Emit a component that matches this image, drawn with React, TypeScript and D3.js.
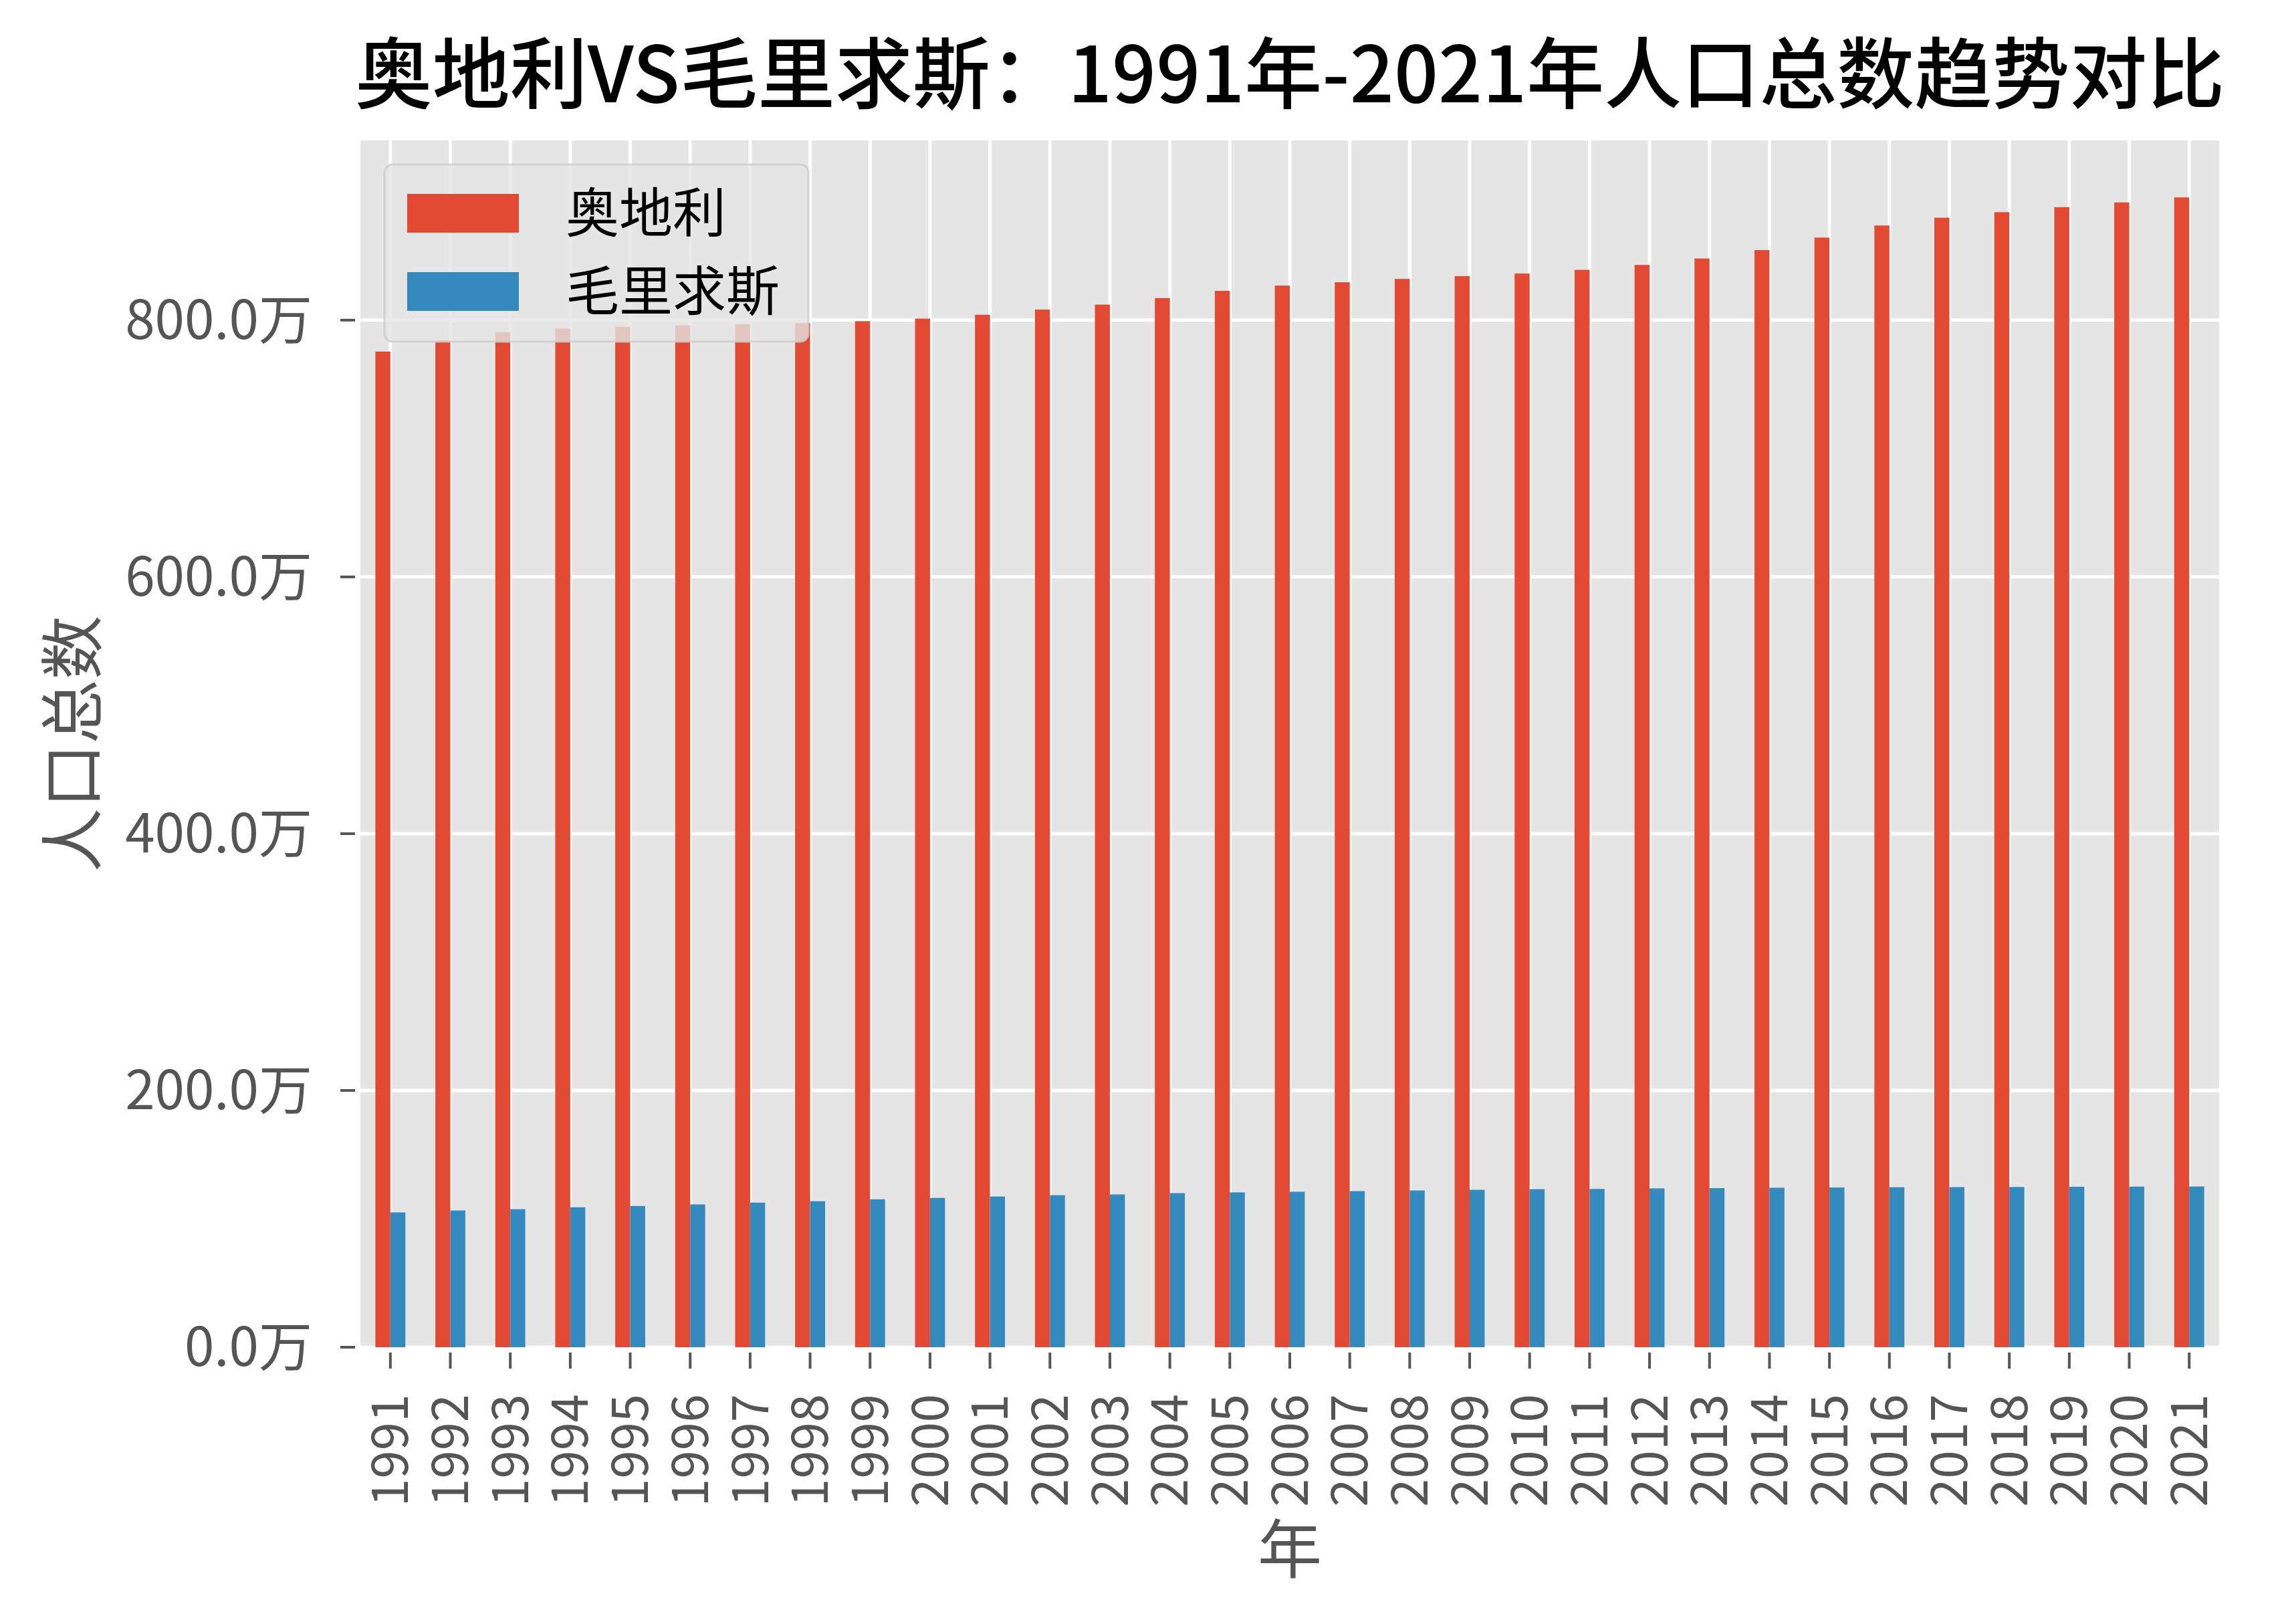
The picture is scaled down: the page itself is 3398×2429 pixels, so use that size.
import React, { useEffect } from "react";
import * as d3 from "d3";

// 奥地利 / 毛里求斯 人口总数 (万)
const years = [
  "1991", "1992", "1993", "1994", "1995", "1996", "1997", "1998", "1999", "2000",
  "2001", "2002", "2003", "2004", "2005", "2006", "2007", "2008", "2009", "2010",
  "2011", "2012", "2013", "2014", "2015", "2016", "2017", "2018", "2019", "2020", "2021",
];
const austria = [
  775.5, 784.1, 790.6, 793.6, 794.8, 795.9, 796.8, 797.7, 799.2, 801.2,
  804.2, 808.2, 812.1, 817.2, 822.8, 826.9, 829.5, 832.1, 834.3, 836.3,
  839.2, 843.0, 848.0, 854.6, 864.3, 873.7, 879.8, 884.1, 888.0, 891.7, 895.6,
];
const mauritius = [
  105.0, 106.5, 107.5, 109.0, 110.0, 111.2, 112.6, 113.7, 115.2, 116.3,
  117.4, 118.4, 119.0, 120.0, 120.6, 121.1, 121.6, 122.1, 122.6, 123.1,
  123.3, 123.7, 123.9, 124.2, 124.4, 124.6, 124.7, 124.8, 125.0, 125.1, 125.2,
];
const seriesNames = ["奥地利", "毛里求斯"];
const seriesColors = ["#E24A33", "#348ABD"];
const yTicks = [0, 200, 400, 600, 800];

const W = 3398;
const H = 2429;
const plot = { left: 539, right: 3319, top: 210, bottom: 2015 };
const FONT = "'Noto Sans CJK SC', 'Noto Sans', sans-serif";

export default function App() {
  useEffect(() => {
    document.body.style.margin = "0";
  }, []);

  const x = d3.scaleBand<string>().domain(years).range([plot.left, plot.right]).padding(0);
  const y = d3.scaleLinear().domain([0, 940]).range([plot.bottom, plot.top]);
  const step = x.bandwidth();
  const barW = step * 0.25;
  const center = (yr: string) => (x(yr) as number) + step / 2;

  return (
    <svg width={W} height={H} style={{ display: "block", background: "#fff" }} fontFamily={FONT}>
      <rect x={plot.left} y={plot.top} width={plot.right - plot.left} height={plot.bottom - plot.top} fill="#E5E5E5" />

      {/* grid */}
      {years.map((yr) => (
        <line key={"gx" + yr} x1={center(yr)} x2={center(yr)} y1={plot.top} y2={plot.bottom} stroke="#fff" strokeWidth={5} />
      ))}
      {yTicks.map((t) => (
        <line key={"gy" + t} x1={plot.left} x2={plot.right} y1={y(t)} y2={y(t)} stroke="#fff" strokeWidth={5} />
      ))}

      {/* bars */}
      {years.map((yr, i) => (
        <g key={"b" + yr}>
          <rect x={center(yr) - barW} y={y(austria[i])} width={barW} height={plot.bottom - y(austria[i])} fill={seriesColors[0]} />
          <rect x={center(yr)} y={y(mauritius[i])} width={barW} height={plot.bottom - y(mauritius[i])} fill={seriesColors[1]} />
        </g>
      ))}

      {/* y axis */}
      {yTicks.map((t) => (
        <g key={"yt" + t}>
          <line x1={plot.left - 30} x2={plot.left - 8} y1={y(t)} y2={y(t)} stroke="#555" strokeWidth={4} />
          <text x={plot.left - 72} y={y(t)} dy="0.35em" textAnchor="end" fontSize={80} fill="#555">
            {t.toFixed(1) + "万"}
          </text>
        </g>
      ))}

      {/* x axis */}
      {years.map((yr) => (
        <g key={"xt" + yr}>
          <line x1={center(yr)} x2={center(yr)} y1={plot.bottom + 8} y2={plot.bottom + 32} stroke="#555" strokeWidth={4} />
          <text
            transform={`translate(${center(yr)},${plot.bottom + 70}) rotate(-90)`}
            dy="0.35em"
            textAnchor="end"
            fontSize={76}
            fill="#555"
          >
            {yr}
          </text>
        </g>
      ))}

      <text x={(plot.left + plot.right) / 2} y={2352} textAnchor="middle" fontSize={96} fill="#555">年</text>
      <text transform={`translate(143,${(plot.top + plot.bottom) / 2}) rotate(-90)`} textAnchor="middle" fontSize={96} fill="#555">
        人口总数
      </text>

      <text x={(plot.left + plot.right) / 2} y={153} textAnchor="middle" fontSize={116} fontWeight={500} fill="#000">
        奥地利VS毛里求斯：1991年-2021年人口总数趋势对比
      </text>

      {/* legend */}
      <rect x={575} y={246} width={634} height={265} rx={12} fill="#E5E5E5" fillOpacity={0.8} stroke="#CCCCCC" strokeOpacity={0.8} strokeWidth={3} />
      {seriesNames.map((name, i) => (
        <g key={"lg" + name}>
          <rect x={609} y={290 + i * 117} width={167} height={58} fill={seriesColors[i]} />
          <text x={846} y={319 + i * 117} dy="0.35em" fontSize={80} fill="#000">{name}</text>
        </g>
      ))}
    </svg>
  );
}
